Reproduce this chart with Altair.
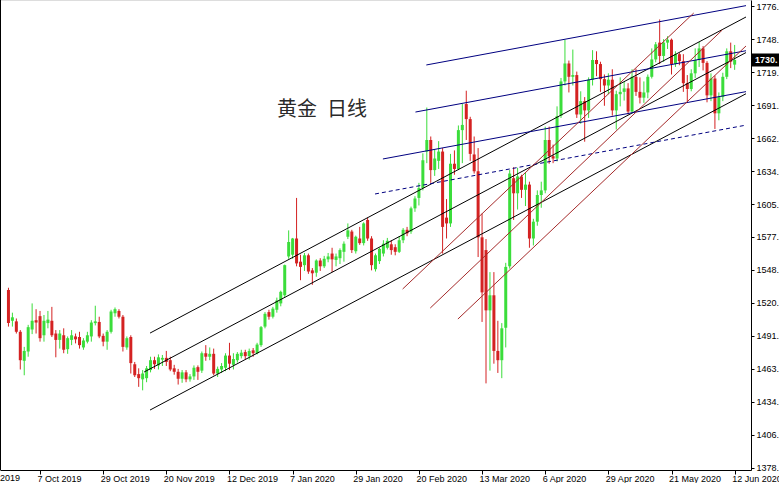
import altair as alt
import pandas as pd

# Daily XAUUSD candles, 25 Sep 2019 .. 12 Jun 2020 (one entry per trading day)
opens = [
    1531.5, 1505.0, 1504.5, 1495.5, 1470.5, 1478.5, 1497.5, 1505.5, 1509.0, 1492.5,
    1503.0, 1505.0, 1494.0, 1488.5, 1492.5, 1480.5, 1488.5, 1491.5, 1491.0, 1482.0,
    1487.0, 1491.5, 1503.0, 1504.0, 1492.0, 1487.0, 1495.5, 1511.5, 1513.5, 1508.5,
    1482.0, 1491.0, 1467.5, 1459.0, 1454.5, 1455.5, 1462.5, 1471.0, 1466.5, 1471.5,
    1473.0, 1471.0, 1464.0, 1461.0, 1455.0, 1460.5, 1454.5, 1457.0, 1465.0, 1462.0,
    1477.0, 1474.0, 1476.5, 1459.5, 1463.0, 1464.5, 1475.0, 1467.0, 1471.0, 1474.5,
    1478.0, 1474.5, 1479.5, 1477.0, 1484.0, 1500.0, 1512.5, 1508.5, 1514.5, 1520.0,
    1527.0, 1560.5, 1562.0, 1576.0, 1556.0, 1553.0, 1561.5, 1548.5, 1546.5, 1557.0,
    1552.0, 1558.0, 1563.0, 1557.5, 1559.0, 1564.5, 1577.5, 1582.0, 1565.0, 1576.0,
    1572.0, 1592.0, 1576.0, 1549.5, 1556.5, 1563.0, 1568.0, 1571.0, 1568.5, 1564.5,
    1574.5, 1583.5, 1582.0, 1602.0, 1611.0, 1619.5, 1651.0, 1661.0, 1635.0, 1643.0,
    1651.0, 1594.0, 1589.0, 1640.5, 1636.0, 1669.5, 1692.0, 1679.0, 1648.5, 1634.0,
    1577.0, 1566.0, 1514.0, 1527.0, 1479.0, 1471.0, 1499.0, 1552.0, 1628.0, 1615.0,
    1629.5, 1618.0, 1622.5, 1576.0, 1590.5, 1613.5, 1617.5, 1661.0, 1647.0, 1645.0,
    1682.0, 1711.5, 1727.0, 1715.5, 1717.0, 1683.0, 1694.5, 1686.5, 1713.0, 1730.0,
    1726.5, 1713.5, 1708.0, 1713.0, 1686.5, 1700.5, 1702.5, 1705.5, 1685.5, 1715.5,
    1702.5, 1697.5, 1702.0, 1715.5, 1730.5, 1745.0, 1733.5, 1745.0, 1747.5, 1726.5,
    1735.0, 1729.0, 1710.0, 1705.0, 1718.5, 1730.0, 1740.0, 1727.5, 1699.5, 1714.0,
    1684.0, 1698.0, 1715.5, 1737.5, 1726.0,
]
highs = [
    1533.5, 1512.0, 1507.0, 1497.0, 1482.5, 1501.5, 1520.0, 1515.0, 1513.5, 1510.0,
    1513.5, 1517.0, 1497.0, 1497.0, 1498.5, 1491.5, 1497.0, 1494.0, 1495.5, 1490.0,
    1495.5, 1505.5, 1518.0, 1508.5, 1494.0, 1497.0, 1514.5, 1516.5, 1515.0, 1510.0,
    1491.5, 1492.5, 1469.5, 1464.0, 1462.5, 1466.0, 1474.0, 1474.0, 1476.0, 1475.5,
    1479.0, 1474.0, 1467.0, 1463.5, 1462.5, 1462.5, 1459.0, 1466.5, 1466.5, 1478.5,
    1484.0, 1482.0, 1481.0, 1465.5, 1468.5, 1477.0, 1486.0, 1477.0, 1478.0, 1480.0,
    1480.0, 1481.0, 1481.5, 1486.0, 1500.5, 1512.5, 1514.5, 1517.0, 1525.0, 1531.0,
    1553.5, 1583.0, 1576.5, 1611.0, 1562.0, 1563.5, 1563.0, 1550.5, 1558.0, 1559.0,
    1561.0, 1563.5, 1568.0, 1563.0, 1567.5, 1573.5, 1589.0, 1583.5, 1578.5, 1586.0,
    1590.0, 1594.0, 1578.0, 1563.0, 1568.0, 1574.5, 1576.5, 1574.5, 1571.0, 1578.0,
    1585.0, 1586.0, 1603.5, 1612.5, 1624.0, 1649.5, 1689.0, 1664.0, 1653.0, 1660.0,
    1654.0, 1610.0, 1649.0, 1652.0, 1673.5, 1692.0, 1703.5, 1681.0, 1664.0, 1654.0,
    1597.5, 1575.5, 1547.0, 1547.0, 1505.0, 1503.0, 1555.0, 1635.0, 1637.5, 1637.0,
    1631.0, 1632.5, 1625.0, 1593.0, 1617.5, 1625.0, 1672.5, 1672.5, 1657.0, 1690.0,
    1714.5, 1747.5, 1729.5, 1739.0, 1720.0, 1703.0, 1698.0, 1715.0, 1738.5, 1737.5,
    1728.5, 1717.5, 1718.5, 1722.0, 1703.5, 1715.0, 1711.0, 1710.0, 1722.0, 1722.5,
    1715.0, 1711.5, 1717.5, 1740.0, 1745.5, 1765.0, 1748.0, 1750.5, 1748.5, 1737.5,
    1736.0, 1735.0, 1717.0, 1722.0, 1740.0, 1745.5, 1742.0, 1729.0, 1718.5, 1716.5,
    1702.0, 1719.0, 1740.0, 1745.0, 1743.0,
]
lows = [
    1500.0, 1500.0, 1494.0, 1463.0, 1458.0, 1474.0, 1493.5, 1494.0, 1487.0, 1487.0,
    1498.5, 1491.0, 1473.5, 1481.0, 1477.0, 1476.5, 1484.0, 1485.5, 1481.0, 1480.0,
    1485.5, 1487.0, 1501.0, 1490.0, 1483.0, 1480.0, 1494.0, 1508.5, 1507.0, 1478.5,
    1480.0, 1459.5, 1456.5, 1448.0, 1445.0, 1452.0, 1460.5, 1463.5, 1463.0, 1466.0,
    1466.0, 1461.5, 1458.5, 1450.0, 1451.5, 1452.0, 1452.5, 1454.0, 1454.0, 1460.0,
    1470.5, 1471.0, 1458.0, 1456.5, 1460.0, 1461.5, 1462.5, 1463.0, 1469.0, 1472.5,
    1472.0, 1471.5, 1474.0, 1476.0, 1482.5, 1498.5, 1506.0, 1507.0, 1512.0, 1517.5,
    1525.0, 1558.5, 1558.5, 1552.0, 1540.0, 1548.0, 1545.5, 1536.0, 1543.0, 1548.0,
    1550.5, 1555.5, 1547.0, 1552.0, 1554.0, 1556.0, 1575.5, 1563.5, 1563.0, 1570.5,
    1570.0, 1574.0, 1548.5, 1547.5, 1554.0, 1560.5, 1566.5, 1562.0, 1561.5, 1563.5,
    1572.0, 1578.0, 1580.0, 1599.0, 1604.5, 1617.5, 1641.0, 1624.0, 1630.0, 1636.0,
    1563.0, 1576.0, 1586.0, 1631.0, 1635.0, 1641.0, 1661.0, 1643.0, 1632.0, 1560.0,
    1504.0, 1451.0, 1462.0, 1468.0, 1460.0, 1455.5, 1482.0, 1550.0, 1592.0, 1601.0,
    1611.0, 1604.0, 1568.0, 1570.0, 1587.0, 1602.5, 1615.0, 1640.5, 1641.0, 1642.5,
    1680.0, 1708.0, 1702.0, 1708.0, 1680.0, 1675.0, 1659.5, 1680.0, 1708.0, 1716.0,
    1702.5, 1690.5, 1700.5, 1682.0, 1670.0, 1690.0, 1695.0, 1683.0, 1684.5, 1699.0,
    1692.5, 1693.0, 1697.0, 1714.0, 1728.0, 1726.5, 1728.5, 1739.5, 1717.5, 1724.0,
    1725.5, 1702.5, 1694.0, 1703.0, 1714.5, 1724.0, 1721.0, 1693.5, 1694.5, 1670.5,
    1678.0, 1694.5, 1713.5, 1723.0, 1721.5,
]
closes = [
    1503.0, 1508.0, 1495.5, 1471.0, 1479.0, 1499.5, 1505.0, 1503.5, 1490.0, 1505.0,
    1506.0, 1492.5, 1488.5, 1494.0, 1480.0, 1490.0, 1492.5, 1489.0, 1484.0, 1488.0,
    1492.5, 1503.5, 1504.5, 1491.5, 1487.0, 1495.5, 1513.0, 1515.0, 1508.5, 1482.5,
    1490.0, 1468.5, 1458.0, 1455.5, 1459.5, 1464.0, 1471.0, 1467.5, 1473.5, 1473.0,
    1469.5, 1463.0, 1461.0, 1455.0, 1460.5, 1454.5, 1457.0, 1464.5, 1461.0, 1477.0,
    1474.0, 1476.5, 1459.5, 1463.5, 1466.0, 1475.0, 1468.0, 1472.0, 1476.5, 1477.5,
    1474.5, 1479.0, 1477.0, 1484.5, 1499.5, 1511.0, 1508.5, 1515.5, 1522.5, 1530.0,
    1553.0, 1573.0, 1576.0, 1554.5, 1551.5, 1561.5, 1547.5, 1546.0, 1557.0, 1552.0,
    1558.5, 1560.5, 1558.0, 1560.5, 1566.0, 1571.5, 1583.0, 1566.0, 1577.5, 1572.0,
    1589.0, 1576.0, 1553.0, 1561.5, 1567.0, 1571.5, 1574.0, 1566.0, 1564.5, 1574.5,
    1583.5, 1580.5, 1602.0, 1610.5, 1619.5, 1643.5, 1661.0, 1635.0, 1645.0, 1651.0,
    1586.0, 1589.0, 1640.5, 1636.0, 1669.5, 1674.0, 1679.0, 1649.0, 1634.0, 1577.0,
    1529.5, 1514.0, 1527.0, 1479.0, 1471.0, 1498.5, 1551.5, 1632.0, 1615.0, 1629.5,
    1618.0, 1622.5, 1576.0, 1590.5, 1613.5, 1617.5, 1661.0, 1647.0, 1645.0, 1681.5,
    1711.5, 1727.0, 1715.5, 1717.0, 1683.0, 1694.5, 1686.5, 1713.0, 1730.0, 1726.5,
    1713.5, 1708.0, 1713.0, 1686.5, 1700.5, 1702.5, 1705.5, 1685.5, 1715.5, 1702.5,
    1697.5, 1702.0, 1715.5, 1730.5, 1743.5, 1733.5, 1745.0, 1747.5, 1726.5, 1735.0,
    1729.0, 1710.0, 1705.0, 1718.5, 1730.0, 1740.0, 1727.5, 1699.5, 1714.0, 1684.0,
    1698.0, 1715.5, 1737.5, 1728.5, 1730.0,
]

# Date labels on the time axis (bar index -> label)
tick_bars = [8, 24, 40, 56, 72, 88, 104, 120, 136, 152, 168, 184]
tick_texts = ["7 Oct 2019", "29 Oct 2019", "20 Nov 2019", "12 Dec 2019",
              "7 Jan 2020", "29 Jan 2020", "20 Feb 2020", "13 Mar 2020",
              "6 Apr 2020", "29 Apr 2020", "21 May 2020", "12 Jun 2020"]
lead_bar = -8
lead_text = "13 Sep 2019"

# Price scale marks
price_ticks = [1378.00, 1406.47, 1434.94, 1463.41, 1491.88, 1520.35, 1548.82,
               1577.29, 1605.76, 1634.23, 1662.70, 1691.17, 1719.64, 1748.11,
               1776.58]

# Hand-drawn trend lines: (start bar, start price) -> (end bar, end price)
line_kind = ["channel", "channel", "channel",
             "upper", "upper", "upper",
             "upper_dash",
             "fan", "fan", "fan"]
line_bar0 = [35.875, 34.375, 35.875, 105.875, 103.125, 94.875, 92.875, 99.875, 106.875, 113.875]
line_price0 = [1494.4, 1460.8, 1428.0, 1725.7, 1685.1, 1644.6, 1614.4, 1532.4, 1516.0, 1506.5]
line_bar1 = [186.875, 186.875, 186.875, 186.875, 186.875, 186.875, 186.875, 173.625, 180.875, 186.875]
line_price1 = [1767.1, 1736.4, 1700.9, 1776.9, 1738.0, 1702.7, 1673.8, 1770.5, 1755.9, 1742.1]

UP = "#3BDD3B"
DOWN = "#D42222"
AXIS_FONT = "Liberation Sans"
LABEL_SHIFT = -3

candles = pd.DataFrame({
    "bar": list(range(len(opens))),
    "open": opens, "high": highs, "low": lows, "close": closes,
})
candles["dir"] = ["up" if c >= o else "down" for o, c in zip(opens, closes)]

lines = pd.DataFrame({
    "kind": line_kind, "b0": line_bar0, "p0": line_price0,
    "b1": line_bar1, "p1": line_price1,
})

x_scale = alt.Scale(domain=[-0.875, 186.875], nice=False, zero=False)
y_scale = alt.Scale(domain=[1376.27, 1781.76], nice=False, zero=False)

label_expr = " : ".join(
    f"datum.value == {b} ? '{t}'" for b, t in zip(tick_bars, tick_texts)
) + " : ''"

x_axis = alt.Axis(orient="bottom", values=tick_bars, labelExpr=label_expr,
                  labelAlign="left", labelBaseline="top", labelPadding=0,
                  labelOffset=LABEL_SHIFT,
                  tickSize=4, tickColor="black", domainColor="black",
                  labelFont=AXIS_FONT, labelFontSize=9, labelColor="black",
                  grid=False, title=None, labelOverlap=False,
                  labelBound=False, labelFlush=False)
y_axis = alt.Axis(orient="right", values=price_ticks,
                  labelExpr="floor(datum.value) + '.'",
                  tickSize=3, labelPadding=2, tickColor="black",
                  domainColor="black", labelFont=AXIS_FONT, labelFontSize=9,
                  labelColor="black", grid=False, title=None,
                  labelOverlap=False, labelBound=False, labelFlush=False)

dir_color = alt.Color("dir:N", scale=alt.Scale(domain=["up", "down"], range=[UP, DOWN]),
                      legend=None)


def xq(field):
    return alt.X(field, type="quantitative", scale=x_scale, axis=x_axis)


def yq(field):
    return alt.Y(field, type="quantitative", scale=y_scale, axis=y_axis)


base = alt.Chart(candles)

wicks = base.mark_rule(strokeWidth=1).encode(
    x=xq("bar"), y=yq("low"), y2="high:Q", color=dir_color,
)

bodies = base.mark_bar(size=3).encode(
    x=xq("bar"), y=yq("open"), y2="close:Q", color=dir_color,
)


def trend(kind, color, dash=None):
    mark_args = dict(color=color, strokeWidth=1, clip=True)
    if dash:
        mark_args["strokeDash"] = dash
    return alt.Chart(lines).transform_filter(
        alt.datum.kind == kind
    ).mark_rule(**mark_args).encode(
        x=xq("b0"), y=yq("p0"), x2="b1:Q", y2="p1:Q",
    )


channel = trend("channel", "black")
upper = trend("upper", "#000080")
upper_dash = trend("upper_dash", "#000080", [4, 3])
fan = trend("fan", "#A52A2A")

last = pd.DataFrame({"last": [closes[-1]], "txt": [f"{int(closes[-1])}."]})
price_box = alt.Chart(last).mark_rect(color="black", yOffset=-6.5, y2Offset=6.5).encode(
    x=alt.value(752), x2=alt.value(790),
    y=yq("last"), y2="last:Q",
)
price_txt = alt.Chart(last).mark_text(
    align="left", baseline="middle", dx=3, color="white",
    font=AXIS_FONT, fontSize=9, fontWeight="bold",
).encode(x=alt.value(752), y=yq("last"), text="txt:N")

# the label of the tick just left of the visible range, mostly cut by the edge
lead_label = alt.Chart(alt.Data(values=[{"b": lead_bar, "t": lead_text}])).mark_text(
    align="left", baseline="top", font=AXIS_FONT, fontSize=9, color="black",
    dx=LABEL_SHIFT - 5,
).encode(x=xq("b:Q"), y=alt.value(474), text="t:N")

left_edge = alt.Chart(alt.Data(values=[{}])).mark_rule(color="black").encode(
    x=alt.value(0.5), y=alt.value(0), y2=alt.value(470)
)

title_a = alt.Chart(alt.Data(values=[{}])).mark_text(
    align="left", baseline="alphabetic", font="Noto Sans CJK SC", fontSize=20,
    color="#2a2a2a",
).encode(x=alt.value(277), y=alt.value(116), text=alt.value("黄金"))
title_b = alt.Chart(alt.Data(values=[{}])).mark_text(
    align="left", baseline="alphabetic", font="Noto Sans CJK SC", fontSize=20,
    color="#2a2a2a",
).encode(x=alt.value(327), y=alt.value(116), text=alt.value("日线"))

chart = alt.layer(
    wicks, bodies, channel, upper, upper_dash, fan,
    price_box, price_txt, lead_label, left_edge, title_a, title_b,
).properties(
    width=751, height=470,
    autosize=alt.AutoSizeParams(type="none"),
    padding={"left": 0, "top": 0, "right": 28, "bottom": 13},
).configure_view(stroke=None).configure(background="white")

chart.save("out.html", embed_options={"renderer": "svg", "actions": False})
